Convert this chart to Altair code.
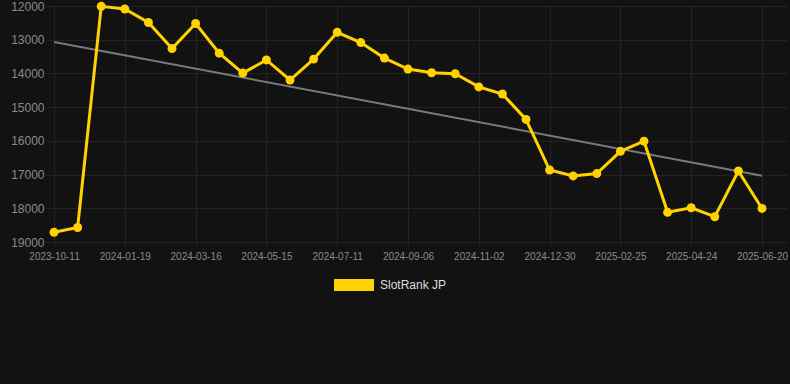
import altair as alt
import pandas as pd

# ---- data ----
dates = [
    "2023-10-11", "2023-11-05", "2023-12-31",
    "2024-01-19", "2024-02-07", "2024-02-26",
    "2024-03-16", "2024-04-05", "2024-04-25",
    "2024-05-15", "2024-06-03", "2024-06-22",
    "2024-07-11", "2024-07-30", "2024-08-18",
    "2024-09-06", "2024-09-25", "2024-10-14",
    "2024-11-02", "2024-11-21", "2024-12-10",
    "2024-12-30", "2025-01-18", "2025-02-06",
    "2025-02-25", "2025-03-16", "2025-04-05",
    "2025-04-24", "2025-05-13", "2025-06-01",
    "2025-06-20",
]
ranks = [
    18710, 18570, 12010, 12090, 12490, 13260, 12520, 13400, 13990, 13600,
    14195, 13575, 12780, 13085, 13545, 13870, 13980, 14010, 14400, 14610,
    15365, 16865, 17040, 16970, 16310, 16010, 18120, 17985, 18250, 16895,
    18005,
]
series_name = "SlotRank JP"
y_ticks = [12000, 13000, 14000, 15000, 16000, 17000, 18000, 19000]
label_step = 3

df = pd.DataFrame({
    "idx": list(range(len(dates))),
    "date": dates,
    "rank": ranks,
    "series": [series_name] * len(dates),
})

BG = "#121212"
GRID = "#232323"
YELLOW = "#FFD200"
FONT = "Liberation Sans"

label_expr = "[" + ",".join("'" + d + "'" for d in dates) + "][datum.value]"

x_enc = alt.X(
    "idx:Q",
    scale=alt.Scale(domain=[-0.34, 31.06], nice=False, zero=False),
    axis=alt.Axis(
        values=list(range(0, len(dates), label_step)),
        labelExpr=label_expr,
        title=None,
        grid=True,
        gridColor=GRID,
        domain=False,
        ticks=True,
        tickColor=GRID,
        tickSize=5,
        labelFontSize=10,
        labelColor="#8a8a8a",
        labelFont=FONT,
        labelPadding=4,
    ),
)
y_enc = alt.Y(
    "rank:Q",
    scale=alt.Scale(domain=[y_ticks[0], y_ticks[-1]], reverse=True, nice=False, zero=False),
    axis=alt.Axis(
        values=y_ticks,
        format="d",
        title=None,
        grid=True,
        gridColor=GRID,
        domain=False,
        ticks=False,
        labelFontSize=12,
        labelColor="#8a8a8a",
        labelFont=FONT,
        labelPadding=2,
    ),
)

base = alt.Chart(df)

trend = base.transform_regression("idx", "rank").mark_line(
    color="#7a7a7a", strokeWidth=2
).encode(x=x_enc, y=y_enc)

line = base.mark_line(color=YELLOW, strokeWidth=3).encode(x=x_enc, y=y_enc)

points = base.mark_point(filled=True, size=80, opacity=1).encode(
    x=x_enc,
    y=y_enc,
    color=alt.Color(
        "series:N",
        scale=alt.Scale(domain=[series_name], range=[YELLOW]),
        legend=alt.Legend(
            title=None,
            orient="none",
            legendX=288,
            legendY=259,
            symbolType="M-1,-0.3L1,-0.3L1,0.3L-1,0.3Z",
            symbolSize=1600,
            symbolStrokeWidth=0,
            symbolOpacity=1,
            labelFontSize=12,
            labelColor="#dddddd",
            labelFont=FONT,
            labelOffset=6,
        ),
    ),
)

chart = (
    alt.layer(trend, line, points)
    .properties(width=741, height=236, background=BG,
                padding={"left": 10, "top": 0, "right": 0, "bottom": 0})
    .configure_view(stroke=None)
)

page_style = (
    "html, body { background: #121212; margin: 0; }"
    " .vega-embed { position: relative; display: inline-block; box-sizing: border-box; }"
)

chart.save("out.html", embed_options={"renderer": "svg", "actions": False,
                                      "defaultStyle": page_style})
